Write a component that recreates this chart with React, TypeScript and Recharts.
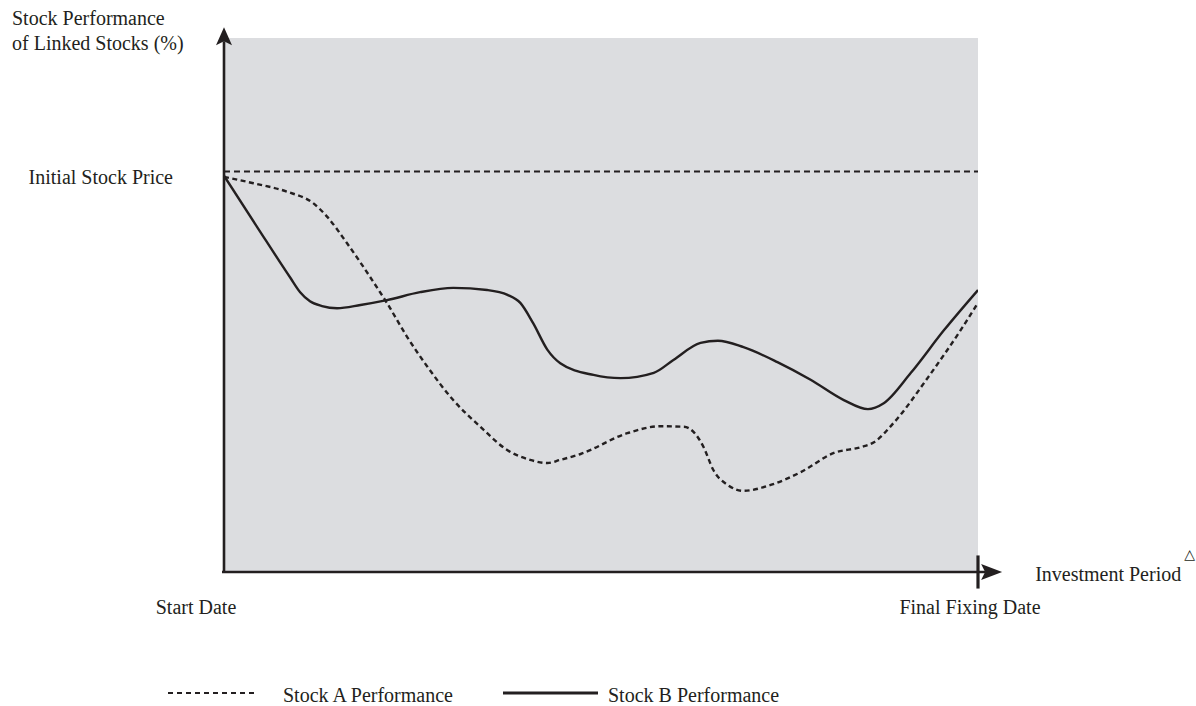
import { LineChart, Line, XAxis, YAxis, CartesianGrid, ReferenceLine, Legend } from 'recharts';

// time axis runs 0..100 (start date -> final fixing date), performance 0..100 on the y scale
const stockATime = [0, 3.9, 8.4, 11.8, 13.7, 16.3, 19.4, 21.6, 24.3, 27.0, 30.4, 34.0, 37.6, 40.6, 42.9, 44.6, 47.3, 53.5, 57.9, 61.0, 62.3, 63.6, 64.9, 66.8, 68.9, 72.5, 76.5, 80.9, 84.5, 86.2, 88.8, 93.4, 97.7, 100];
const stockAValues = [74.0, 72.8, 71.2, 69.1, 66.5, 61.6, 55.2, 50.4, 44.0, 38.4, 32.2, 27.2, 22.8, 21.0, 20.4, 21.0, 22.1, 26.0, 27.3, 27.2, 26.2, 23.4, 19.1, 16.3, 15.2, 16.3, 18.7, 22.3, 23.4, 24.3, 27.9, 36.5, 45.3, 50.4];

const stockBTime = [0, 4.4, 8.8, 10.1, 11.4, 13.0, 15.0, 18.1, 21.6, 26.0, 30.4, 34.9, 37.6, 39.3, 41.0, 42.9, 44.6, 49.0, 52.6, 57.0, 59.6, 63.2, 65.5, 68.9, 73.4, 77.8, 82.2, 85.4, 87.5, 91.1, 95.5, 100];
const stockBValues = [74.2, 64.6, 55.1, 52.4, 50.7, 49.8, 49.4, 50.0, 50.9, 52.4, 53.2, 52.8, 51.9, 50.4, 46.6, 41.6, 39.1, 36.9, 36.3, 37.3, 39.7, 42.9, 43.3, 42.1, 39.3, 36.0, 32.2, 30.5, 31.6, 37.3, 45.3, 52.8];

const initialPrice = 75;
const yTickLabel = 'Initial Stock Price';
const xTicks = [0, 100];
const xTickLabels = ['Start Date', 'Final Fixing Date'];
const yTitle = ['Stock Performance', 'of Linked Stocks (%)'];
const xTitle = 'Investment Period';
const seriesNames = ['Stock A Performance', 'Stock B Performance'];

const stockAData = stockATime.map((t, i) => ({ t, v: stockAValues[i] }));
const stockBData = stockBTime.map((t, i) => ({ t, v: stockBValues[i] }));

const INK = '#231f20';
const FONT = '"Liberation Serif", "Times New Roman", serif';

// arrow drawn along the segment, tip at (x2, y2)
const arrowHead = (x1: number, y1: number, x2: number, y2: number, len: number, half: number) => {
  const d = Math.hypot(x2 - x1, y2 - y1) || 1;
  const ux = (x2 - x1) / d;
  const uy = (y2 - y1) / d;
  const bx = x2 - ux * len;
  const by = y2 - uy * len;
  const nx = x2 - ux * (len - 4);
  const ny = y2 - uy * (len - 4);
  const pts = [
    [x2, y2],
    [bx - uy * half, by + ux * half],
    [nx, ny],
    [bx + uy * half, by - ux * half],
  ];
  return { bx: nx, by: ny, points: pts.map((p) => p.join(',')).join(' ') };
};

const YArrow = (props: any) => {
  const { x1, y1, x2, y2 } = props;
  const h = arrowHead(x1, y1, x2, y2, 18, 8);
  return (
    <g>
      <line x1={x1} y1={y1} x2={h.bx} y2={h.by} stroke={INK} strokeWidth={2.6} />
      <polygon points={h.points} fill={INK} />
      <text x={x2 - 212} y={y2 - 2} fill={INK} fontSize={20} fontFamily={FONT}>
        {yTitle[0]}
      </text>
      <text x={x2 - 212} y={y2 + 23} fill={INK} fontSize={20} fontFamily={FONT}>
        {yTitle[1]}
      </text>
    </g>
  );
};

const XArrow = (props: any) => {
  const { x1, y1, x2, y2 } = props;
  const h = arrowHead(x1, y1, x2, y2, 21, 8);
  return (
    <g>
      <line x1={x1 - 2} y1={y1} x2={h.bx} y2={h.by} stroke={INK} strokeWidth={2.6} />
      <polygon points={h.points} fill={INK} />
      <text x={x2 + 33} y={y2 + 9} fill={INK} fontSize={20} fontFamily={FONT}>
        {xTitle}
        <tspan dx={3} dy={-22} fontSize={14} fontFamily='"DejaVu Sans", sans-serif'>
          △
        </tspan>
      </text>
    </g>
  );
};

const xTickDx = [-28, -8];

const XTick = (props: any) => {
  const { x, y, payload, index } = props;
  return (
    <text x={x + xTickDx[index]} y={y + 42} textAnchor="middle" fill={INK} fontSize={20} fontFamily={FONT}>
      {xTickLabels[xTicks.indexOf(payload.value)]}
    </text>
  );
};

const YTick = (props: any) => {
  const { x, y } = props;
  return (
    <text x={x} y={y + 12} textAnchor="end" fill={INK} fontSize={20} fontFamily={FONT}>
      {yTickLabel}
    </text>
  );
};

const legendLayout = [
  { from: 168, to: 257, text: 283 },
  { from: 503, to: 598, text: 608 },
];

const renderLegend = ({ payload }: any) => (
  <svg width={1196} height={28} style={{ display: 'block' }}>
    {(payload ?? []).map((entry: any, i: number) => {
      const pos = legendLayout[i] ?? legendLayout[0];
      const dashed = !!entry.payload?.strokeDasharray;
      return (
        <g key={entry.value}>
          <line
            x1={pos.from}
            x2={pos.to}
            y1={15}
            y2={15}
            stroke={INK}
            strokeWidth={dashed ? 2.2 : 3.2}
            strokeDasharray={dashed ? '5 4' : undefined}
          />
          <text x={pos.text} y={24} fill={INK} fontSize={20} fontFamily={FONT}>
            {entry.value}
          </text>
        </g>
      );
    })}
  </svg>
);

export default function App() {
  return (
    <div style={{ position: 'absolute', left: 0, top: 0, width: 1196, height: 706, background: '#fff' }}>
      <LineChart width={1196} height={706} margin={{ top: 38, right: 218, bottom: 74, left: 164 }}>
        <CartesianGrid fill="#dcdde0" horizontal={false} vertical={false} stroke="none" />
        <XAxis
          type="number"
          dataKey="t"
          domain={[0, 100]}
          ticks={xTicks}
          axisLine={false}
          tickLine={false}
          tickSize={0}
          tickMargin={0}
          height={60}
          tick={<XTick />}
          allowDataOverflow
        />
        <YAxis
          type="number"
          dataKey="v"
          domain={[0, 100]}
          ticks={[initialPrice]}
          axisLine={false}
          tickLine={false}
          tickSize={0}
          tickMargin={51}
          width={60}
          tick={<YTick />}
          allowDataOverflow
        />
        <ReferenceLine y={initialPrice} stroke={INK} strokeWidth={2.2} strokeDasharray="6 4" />
        <Line
          data={stockAData}
          dataKey="v"
          name={seriesNames[0]}
          type="monotone"
          stroke={INK}
          strokeWidth={2.4}
          strokeDasharray="5 3.5"
          dot={false}
          activeDot={false}
          isAnimationActive={false}
        />
        <Line
          data={stockBData}
          dataKey="v"
          name={seriesNames[1]}
          type="monotone"
          stroke={INK}
          strokeWidth={2.4}
          dot={false}
          activeDot={false}
          isAnimationActive={false}
        />
        <ReferenceLine
          segment={[{ x: 0, y: 0 }, { x: 0, y: 102 }]}
          ifOverflow="visible"
          shape={YArrow}
        />
        <ReferenceLine
          segment={[{ x: 0, y: 0 }, { x: 103.2, y: 0 }]}
          ifOverflow="visible"
          shape={XArrow}
        />
        <ReferenceLine
          segment={[{ x: 100, y: -3.1 }, { x: 100, y: 3.1 }]}
          ifOverflow="visible"
          stroke={INK}
          strokeWidth={3.2}
        />
        <Legend
          layout="horizontal"
          verticalAlign="middle"
          align="center"
          content={renderLegend}
          wrapperStyle={{ left: 0, top: 678, width: 1196, height: 28 }}
        />
      </LineChart>
    </div>
  );
}
